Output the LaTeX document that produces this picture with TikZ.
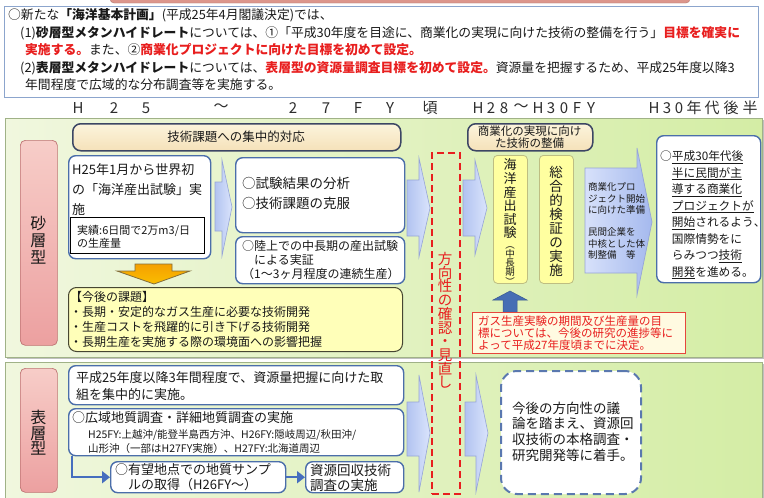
\documentclass[tikz,border=0pt]{standalone}
\usepackage{fontspec}
\setmainfont{Noto Sans CJK JP}
\usetikzlibrary{arrows.meta}
\definecolor{greenL}{RGB}{240,247,222}
\definecolor{greenR}{RGB}{212,237,165}
\definecolor{secborder}{RGB}{160,178,135}
\definecolor{pinkT}{RGB}{247,205,200}
\definecolor{pinkB}{RGB}{236,160,160}
\definecolor{labborder}{RGB}{190,115,115}
\definecolor{boxblue}{RGB}{75,110,170}
\definecolor{bannerborder}{RGB}{60,70,100}
\definecolor{wheatT}{RGB}{252,244,220}
\definecolor{wheatB}{RGB}{245,225,185}
\definecolor{arrowL}{RGB}{178,195,240}
\definecolor{arrowR}{RGB}{218,228,252}
\definecolor{arrowborder}{RGB}{150,165,215}
\definecolor{bigL}{RGB}{215,225,250}
\definecolor{bigR}{RGB}{165,185,238}
\definecolor{yfill}{RGB}{255,255,160}
\definecolor{yborder}{RGB}{190,190,130}
\definecolor{kfill}{RGB}{255,255,185}
\definecolor{kborder}{RGB}{70,70,50}
\definecolor{notefill}{RGB}{255,250,225}
\definecolor{noteborder}{RGB}{230,70,60}
\definecolor{jred}{RGB}{232,30,30}
\definecolor{orangeA}{RGB}{250,190,0}
\definecolor{orangeB}{RGB}{245,160,0}
\definecolor{orangeborder}{RGB}{130,110,60}
\definecolor{upblue}{RGB}{70,110,180}
\definecolor{lineblue}{RGB}{70,110,190}
\definecolor{dashblue}{RGB}{90,120,175}
\definecolor{topborder}{RGB}{140,165,205}
\definecolor{pinkbar}{RGB}{220,150,140}
\definecolor{txtc}{RGB}{25,25,25}
\definecolor{hdr}{RGB}{45,45,45}
\newcommand{\fsz}[2]{\fontsize{#1}{#2}\selectfont}
\newcommand{\rd}[1]{\textcolor{jred}{\textbf{#1}}}
\tikzset{
  sec/.style={draw=secborder, line width=0.8pt, left color=greenL, right color=greenR, inner sep=0pt, anchor=north west},
  shadowbox/.style={fill=black!25, draw=none, inner sep=0pt, anchor=north west},
  lab/.style={draw=labborder, line width=0.7pt, rounded corners=5pt, top color=pinkT, bottom color=pinkB, inner sep=0pt, anchor=north west},
  wbox/.style={draw=boxblue, line width=1.4pt, fill=white, rounded corners=7pt, inner sep=0pt, anchor=north west},
  banner/.style={draw=bannerborder, line width=1.5pt, rounded corners=8pt, top color=wheatT, bottom color=wheatB, inner sep=0pt, anchor=north west},
  barrow/.style={draw=arrowborder, line width=0.6pt, left color=arrowL, right color=arrowR},
  ybox/.style={draw=yborder, line width=0.8pt, rounded corners=4pt, fill=yfill, inner sep=0pt, anchor=north west},
  txt/.style={anchor=west, inner sep=0pt, text=txtc, align=left},
  hd/.style={inner sep=0pt, text=hdr, font=\fsz{15}{15}},
  blarrow/.style={draw=lineblue, line width=2.5pt, -{Triangle[length=8pt,width=12pt]}},
}
\begin{document}
\begin{tikzpicture}[x=1pt,y=-1pt]
\useasboundingbox (0,0) rectangle (764,498);
\fill[white] (0,0) rectangle (764,498);
% top pink bar
\draw[fill=pinkbar, draw=pinkbar!80!black, rounded corners=4pt] (110,-10) rectangle (690,3);
% top box
\node[draw=topborder, line width=1.2pt, fill=white, inner sep=0pt, anchor=north west, minimum width=754pt, minimum height=91pt] (top) at (4,6) {};
\node[txt, font=\fsz{12.8}{13}] (t1) at (8,15) {○新たな\textbf{「海洋基本計画」}(平成25年4月閣議決定)では、};
\node[txt, font=\fsz{12.8}{13}] (t2) at (20,33) {(1)\textbf{砂層型メタンハイドレート}については、①「平成30年度を目途に、商業化の実現に向けた技術の整備を行う」\rd{目標を確実に}};
\node[txt, font=\fsz{12.8}{13}] (t3) at (25,50) {\rd{実施する。}また、②\rd{商業化プロジェクトに向けた目標を初めて設定。}};
\node[txt, font=\fsz{12.8}{13}] (t4) at (20,68) {(2)\textbf{表層型メタンハイドレート}については、\rd{表層型の資源量調査目標を初めて設定。}資源量を把握するため、平成25年度以降3};
\node[txt, font=\fsz{12.8}{13}] (t5) at (25,85) {年間程度で広域的な分布調査等を実施する。};
% timeline header
\node[hd] (h1) at (78,108) {H};
\node[hd] (h2) at (114,108) {2};
\node[hd] (h3) at (146,108) {5};
\node[hd] (h4) at (221,108) {～};
\node[hd] (h5) at (293,108) {2};
\node[hd] (h6) at (326,108) {7};
\node[hd] (h7) at (358,108) {F};
\node[hd] (h8) at (390,108) {Y};
\node[hd] (h9) at (430,108) {頃};
\node[hd] (i1) at (478,108) {H};
\node[hd] (i2) at (491,108) {2};
\node[hd] (i3) at (504,108) {8};
\node[hd] (i4) at (521,108) {～};
\node[hd] (i5) at (538,108) {H};
\node[hd] (i6) at (551,108) {3};
\node[hd] (i7) at (564,108) {0};
\node[hd] (i8) at (577,108) {F};
\node[hd] (i9) at (591,108) {Y};
\node[hd] (j1) at (654,108) {H};
\node[hd] (j2) at (667,108) {3};
\node[hd] (j3) at (679,108) {0};
\node[hd] (j4) at (694,108) {年};
\node[hd] (j5) at (712,108) {代};
\node[hd] (j6) at (731,108) {後};
\node[hd] (j7) at (750,108) {半};
% sections
\node[shadowbox, minimum width=757pt, minimum height=239pt] (s1sh) at (7,120) {};
\node[sec, minimum width=757pt, minimum height=239pt] (s1) at (5,118) {};
\node[shadowbox, minimum width=757pt, minimum height=140pt] (s2sh) at (7,364) {};
\node[sec, minimum width=757pt, minimum height=140pt] (s2) at (5,362) {};
% labels
\node[lab, minimum width=37pt, minimum height=205pt] (L1) at (20,140) {};
\node[align=center, inner sep=0pt, font=\fsz{16}{17}, text=txtc] (L1t) at (38.5,240) {砂\\層\\型};
\node[lab, minimum width=37pt, minimum height=124pt] (L2) at (20,368) {};
\node[align=center, inner sep=0pt, font=\fsz{16}{15.5}, text=txtc] (L2t) at (38.5,433) {表\\層\\型};
% banner 1
\node[banner, minimum width=328pt, minimum height=27pt] (ban1) at (72,123) {};
\node[inner sep=0pt, font=\fsz{12.5}{13}, text=txtc] (ban1t) at (236,137) {技術課題への集中的対応};
% box A
\node[wbox, minimum width=142pt, minimum height=103pt] (A) at (68,155) {};
\node[txt, font=\fsz{13}{20}] (At) at (72,190) {H25年1月から世界初\\の「海洋産出試験」実\\施};
\node[draw=black, line width=0.8pt, fill=white, inner sep=0pt, anchor=north west, minimum width=134pt, minimum height=36pt] (Ain) at (70,217) {};
\node[txt, font=\fsz{11}{13}] (Aint) at (77,236.5) {実績:6日間で2万m3/日\\の生産量};
% arrow 1
\draw[barrow] (215,182) -- (222,182) -- (222,160) -- (232,207) -- (222,256) -- (222,231) -- (215,231) -- cycle;
% box B, C
\node[wbox, minimum width=169pt, minimum height=75pt] (B) at (235,157) {};
\node[txt, font=\fsz{13.5}{20}] (Bt) at (242,193) {○試験結果の分析\\○技術課題の克服};
\node[wbox, minimum width=169pt, minimum height=47pt] (C) at (235,236) {};
\node[txt, font=\fsz{12}{14}] (Ct) at (242,260) {○陸上での中長期の産出試験\\\phantom{○}による実証\\（1～3ヶ月程度の連続生産）};
% orange arrow
\draw[draw=orangeborder, line width=0.8pt, top color=orangeB, bottom color=orangeA] (135,264) -- (172,264) -- (172,271) -- (190,271) -- (154,284) -- (117,271) -- (135,271) -- cycle;
% future issues box
\node[draw=kborder, line width=1pt, rounded corners=8pt, fill=kfill, inner sep=0pt, anchor=north west, minimum width=334pt, minimum height=64pt] (K) at (68,287) {};
\node[txt, font=\fsz{12}{15}] (Kt) at (70,319.5) {【今後の課題】\\・長期・安定的なガス生産に必要な技術開発\\・生産コストを飛躍的に引き下げる技術開発\\・長期生産を実施する際の環境面への影響把握};
% arrows 2,3 (upper)
\draw[barrow] (407,180) -- (419,180) -- (419,158) -- (430,208) -- (419,257) -- (419,236) -- (407,236) -- cycle;
\draw[barrow] (463,180) -- (475,180) -- (475,160) -- (487,208) -- (475,255) -- (475,236) -- (463,236) -- cycle;
% banner 2
\node[banner, minimum width=125pt, minimum height=27pt] (ban2) at (467,123) {};
\node[align=center, inner sep=0pt, font=\fsz{11.5}{12.5}, text=txtc] (ban2t) at (529.5,137) {商業化の実現に向け\\た技術の整備};
% yellow boxes
\node[ybox, minimum width=34pt, minimum height=128pt] (Y1) at (493,155) {};
\node[align=center, inner sep=0pt, font=\fsz{13}{13.6}, text=txtc] (Y1t) at (510,199) {海\\洋\\産\\出\\試\\験};
\node[align=center, inner sep=0pt, font=\fsz{9.5}{8.5}, text=txtc] (Y1s) at (510,266) {︵\\中\\長\\期\\︶};
\node[ybox, minimum width=34pt, minimum height=128pt] (Y2) at (539,155) {};
\node[align=center, inner sep=0pt, font=\fsz{13.5}{13.9}, text=txtc] (Y2t) at (556,221.5) {総\\合\\的\\検\\証\\の\\実\\施};
% big arrow
\draw[draw=arrowborder, line width=0.7pt, left color=bigL, right color=bigR] (585,168) -- (637,168) -- (637,148) -- (652,222) -- (637,295) -- (637,273) -- (585,273) -- cycle;
\node[txt, font=\fsz{9.5}{11.3}] (bigt) at (588,221) {商業化プロ\\ジェクト開始\\に向けた準備\\\mbox{}\\民間企業を\\中核とした体\\制整備　等};
% right box
\node[wbox, minimum width=104pt, minimum height=147pt] (R) at (656,135) {};
\node[txt, font=\fsz{11.7}{16.5}] (Rt) at (660,215) {○\underline{平成30年代後}\\\phantom{○}\underline{半に民間が主}\\\phantom{○}\underline{導する商業化}\\\phantom{○}\underline{プロジェクトが}\\\phantom{○}\underline{開始}されるよう\makebox[0.4em][l]{、}\\\phantom{○}国際情勢をに\\\phantom{○}らみつつ\underline{技術}\\\phantom{○}\underline{開発}を進める。};
% up arrow and note
\draw[fill=upblue, draw=upblue!80!black, line width=0.5pt] (510,291) -- (527,300) -- (517,300) -- (517,312) -- (503,312) -- (503,300) -- (493,300) -- cycle;
\node[draw=noteborder, line width=1.2pt, fill=notefill, inner sep=0pt, anchor=north west, minimum width=213pt, minimum height=41pt] (N) at (472,312) {};
\node[txt, text=jred, font=\fsz{11.5}{12}] (Nt) at (478,333.5) {ガス生産実験の期間及び生産量の目\\標については、今後の研究の進捗等に\\よって平成27年度頃までに決定。};
% lower section
\node[wbox, minimum width=335pt, minimum height=39pt] (D) at (68,365) {};
\node[txt, font=\fsz{13}{17}] (Dt) at (76,386.5) {平成25年度以降3年間程度で、資源量把握に向けた取\\組を集中的に実施。};
\node[wbox, minimum width=335pt, minimum height=47pt] (E) at (68,408) {};
\node[txt, font=\fsz{13}{14}] (Et1) at (72,418) {○広域地質調査・詳細地質調査の実施};
\node[txt, font=\fsz{10.5}{14}] (Et2) at (88,442) {H25FY:上越沖/能登半島西方沖、H26FY:隠岐周辺/秋田沖/\\山形沖（一部はH27FY実施）、H27FY:北海道周辺};
\node[wbox, minimum width=175pt, minimum height=31pt] (F) at (110,461) {};
\node[txt, font=\fsz{13}{15}] (Ft) at (115,477.5) {○有望地点での地質サンプ\\\phantom{○}ルの取得（H26FY～）};
\node[wbox, minimum width=98pt, minimum height=31pt] (G) at (305,461) {};
\node[txt, font=\fsz{13.5}{15}] (Gt) at (310,477.5) {資源回収技術\\調査の実施};
\draw[blarrow] ([xshift=4pt]E.south west) |- (F.west);
\draw[blarrow] (F.east) -- (G.west);
% lower arrows
\draw[barrow] (407,402) -- (419,402) -- (419,375) -- (430,433) -- (419,492) -- (419,456) -- (407,456) -- cycle;
\draw[barrow] (465,402) -- (476,402) -- (476,375) -- (488,433) -- (476,492) -- (476,456) -- (465,456) -- cycle;
% dashed box
\node[draw=dashblue, line width=2pt, dash pattern=on 8pt off 5pt, fill=white, rounded corners=16pt, inner sep=0pt, anchor=north west, minimum width=140pt, minimum height=123pt] (H) at (500,370) {};
\node[txt, font=\fsz{13.5}{15.7}] (Ht) at (512,431.5) {今後の方向性の議\\論を踏まえ、資源回\\収技術の本格調査・\\研究開発等に着手。};
% red dashed review box
\node[draw=jred, line width=2pt, dash pattern=on 7pt off 4pt, inner sep=0pt, anchor=north west, minimum width=28pt, minimum height=341pt] (RV) at (431,152) {};
\node[align=center, inner sep=0pt, font=\fsz{14.5}{13.7}, text=jred] (RVt) at (445,320.5) {方\\向\\性\\の\\確\\認\\・\\見\\直\\し};
\end{tikzpicture}
\end{document}
